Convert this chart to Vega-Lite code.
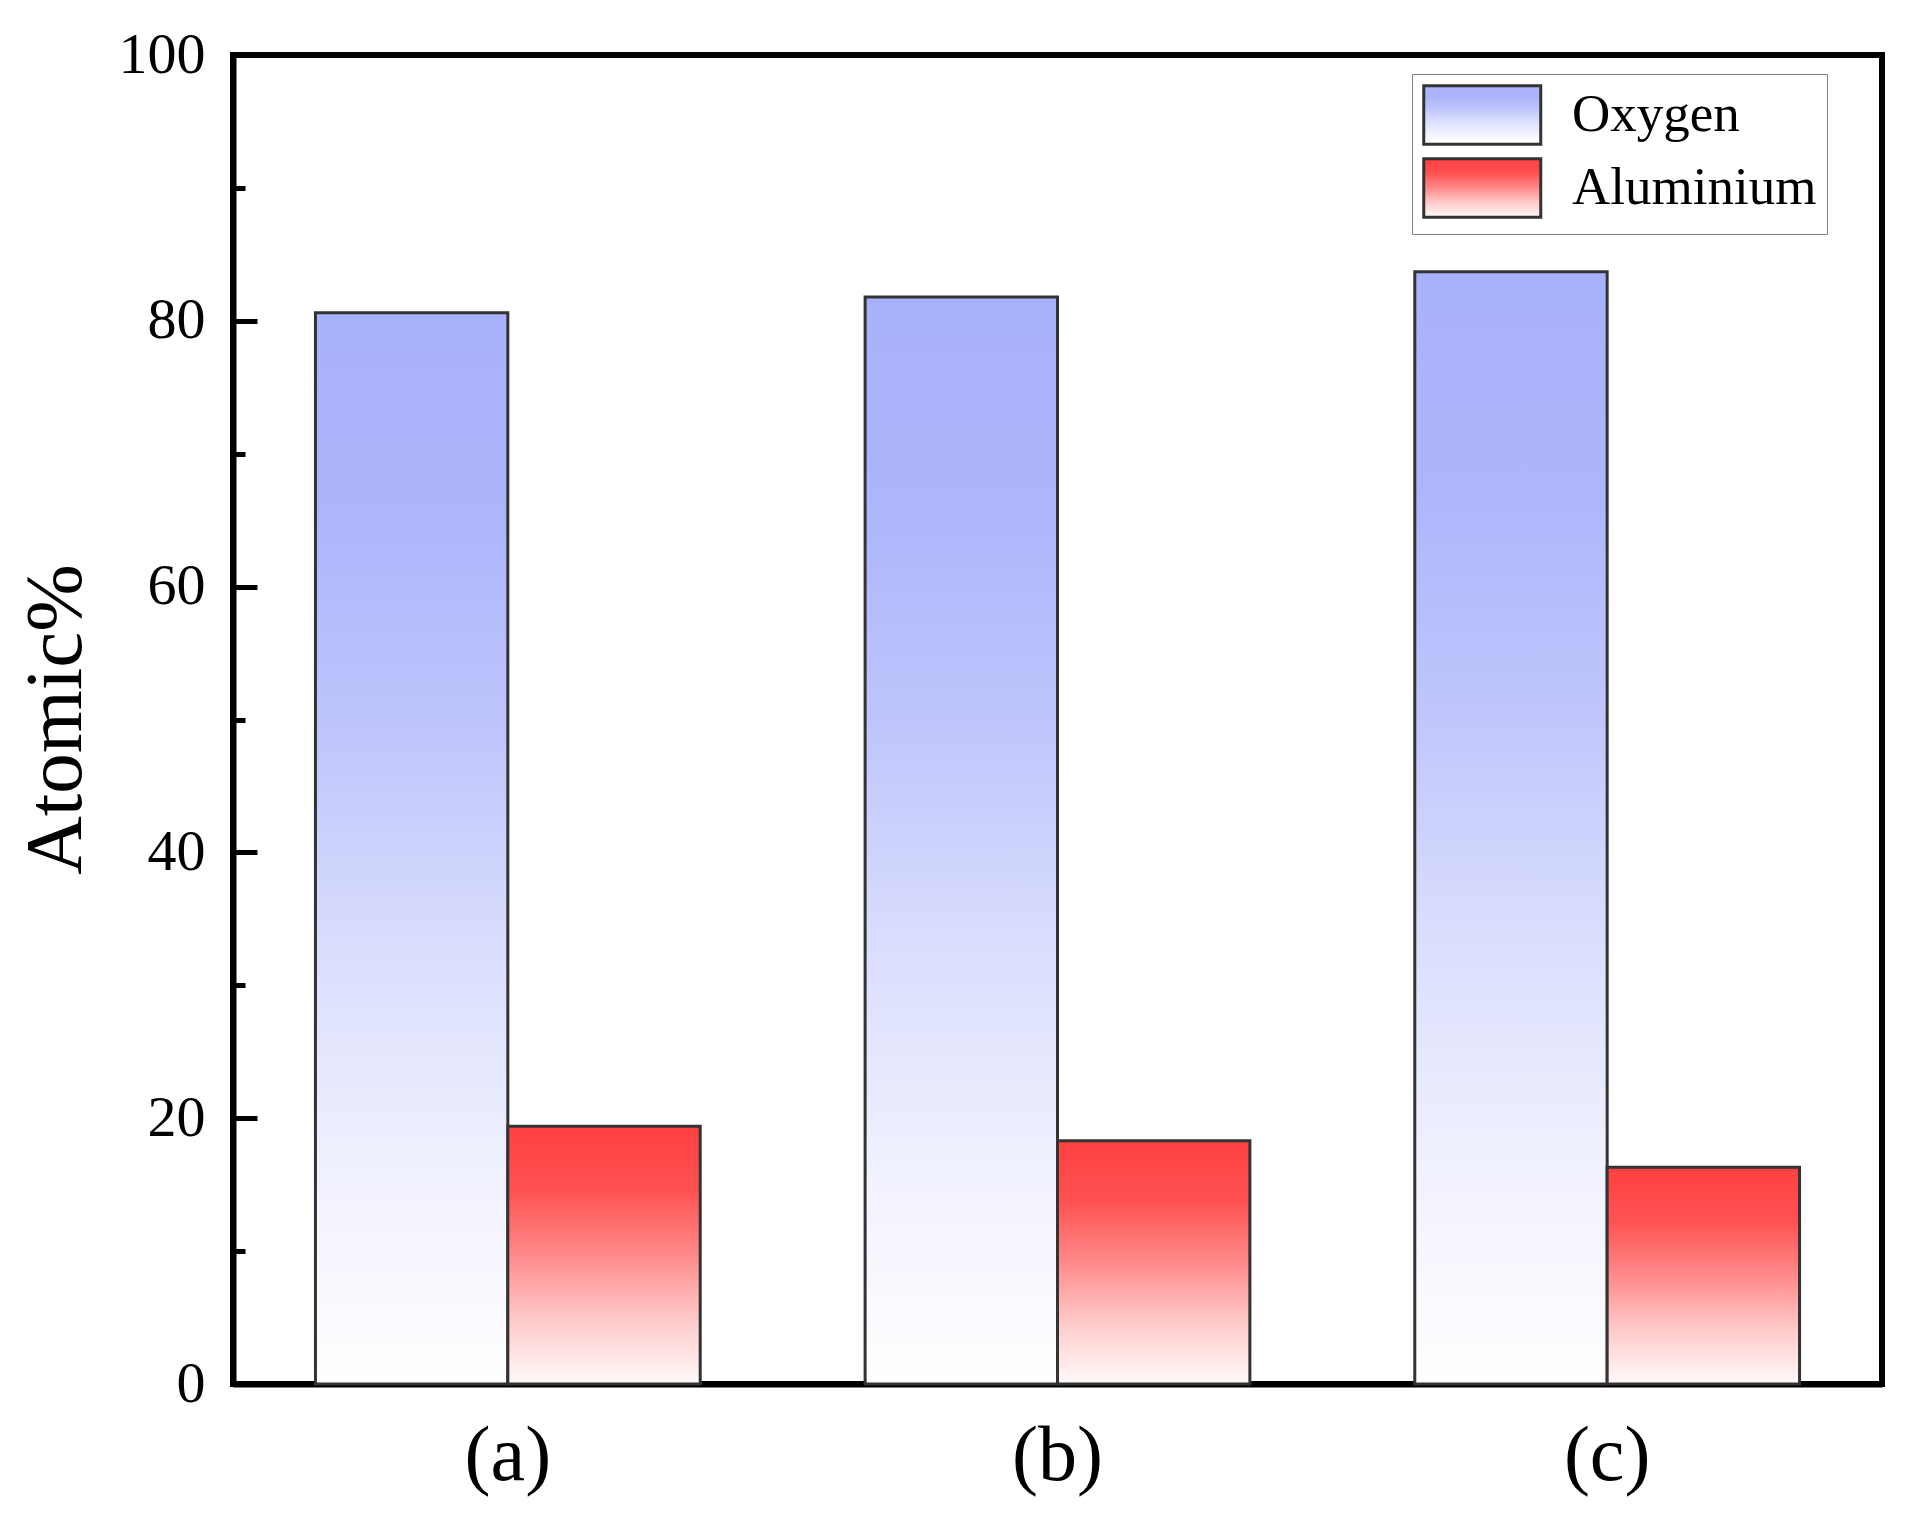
{
  "$schema": "https://vega.github.io/schema/vega-lite/v6.json",
  "description": "Atomic% of oxygen and aluminium for samples (a), (b), (c).",
  "width": 1649,
  "height": 1329,
  "autosize": "none",
  "padding": {"left": 233, "top": 55, "right": 29, "bottom": 133},
  "background": "white",
  "config": {
    "font": "Liberation Serif",
    "view": {"stroke": "black", "strokeWidth": 6}
  },
  "data": {
    "values": [
      {"sample": "(a)", "element": "Oxygen", "atomic": 80.6},
      {"sample": "(a)", "element": "Aluminium", "atomic": 19.4},
      {"sample": "(b)", "element": "Oxygen", "atomic": 81.8},
      {"sample": "(b)", "element": "Aluminium", "atomic": 18.3},
      {"sample": "(c)", "element": "Oxygen", "atomic": 83.7},
      {"sample": "(c)", "element": "Aluminium", "atomic": 16.3}
    ]
  },
  "mark": {"type": "bar", "stroke": "#333333", "strokeWidth": 3},
  "encoding": {
    "x": {
      "field": "sample",
      "type": "nominal",
      "title": null,
      "scale": {"paddingInner": 0.3, "paddingOuter": 0.15},
      "axis": {
        "labelAngle": 0,
        "labelFontSize": 78,
        "labelColor": "black",
        "labelBaseline": "alphabetic",
        "labelPadding": 95,
        "ticks": false,
        "tickSize": 0,
        "domainColor": "black",
        "domainWidth": 6
      }
    },
    "xOffset": {
      "field": "element",
      "type": "nominal",
      "sort": ["Oxygen", "Aluminium"],
      "scale": {"paddingInner": 0, "paddingOuter": 0}
    },
    "y": {
      "field": "atomic",
      "type": "quantitative",
      "title": "Atomic%",
      "scale": {"domain": [0, 100], "nice": false},
      "axis": {
        "values": [0, 10, 20, 30, 40, 50, 60, 70, 80, 90, 100],
        "labelExpr": "datum.value % 20 === 0 ? datum.label : ''",
        "labelFontSize": 58,
        "labelColor": "black",
        "labelPadding": 52,
        "labelBaseline": "middle",
        "labelFlush": false,
        "labelOverlap": false,
        "tickSize": {"condition": {"test": "datum.value % 20 === 0", "value": -24}, "value": -12},
        "tickColor": "black",
        "tickWidth": 5,
        "grid": false,
        "domainColor": "black",
        "domainWidth": 6,
        "titleFontSize": 81,
        "titleFontWeight": "normal",
        "titleColor": "black",
        "titleBaseline": "alphabetic",
        "titleX": -153,
        "titleY": 664,
        "titleAngle": 270
      }
    },
    "fill": {
      "field": "element",
      "type": "nominal",
      "sort": ["Oxygen", "Aluminium"],
      "scale": {
        "domain": ["Oxygen", "Aluminium"],
        "range": [
          {"expr": "{gradient: 'linear', x1: 0, y1: 1, x2: 0, y2: 0, stops: [{offset: 0, color: '#ffffff'}, {offset: 0.2, color: '#f0f1fe'}, {offset: 0.4, color: '#dadefd'}, {offset: 0.6, color: '#c0c6fc'}, {offset: 0.8, color: '#adb6fb'}, {offset: 1, color: '#a8b1fb'}]}"},
          {"expr": "{gradient: 'linear', x1: 0, y1: 1, x2: 0, y2: 0, stops: [{offset: 0, color: '#fffafa'}, {offset: 0.25, color: '#ffcaca'}, {offset: 0.5, color: '#ff8a8a'}, {offset: 0.75, color: '#ff5252'}, {offset: 1, color: '#ff4040'}]}"}
        ]
      },
      "legend": {
        "title": null,
        "orient": "none",
        "legendX": 1179,
        "legendY": 19,
        "padding": 10,
        "strokeColor": "#808080",
        "fillColor": "white",
        "symbolType": "M-1,-1H3V1H-1Z",
        "symbolSize": 3422,
        "symbolStrokeColor": "#333333",
        "symbolStrokeWidth": 3,
        "symbolOpacity": 1,
        "labelFontSize": 53,
        "labelColor": "black",
        "labelOffset": 88,
        "labelLimit": 500,
        "rowPadding": 1
      }
    }
  }
}
